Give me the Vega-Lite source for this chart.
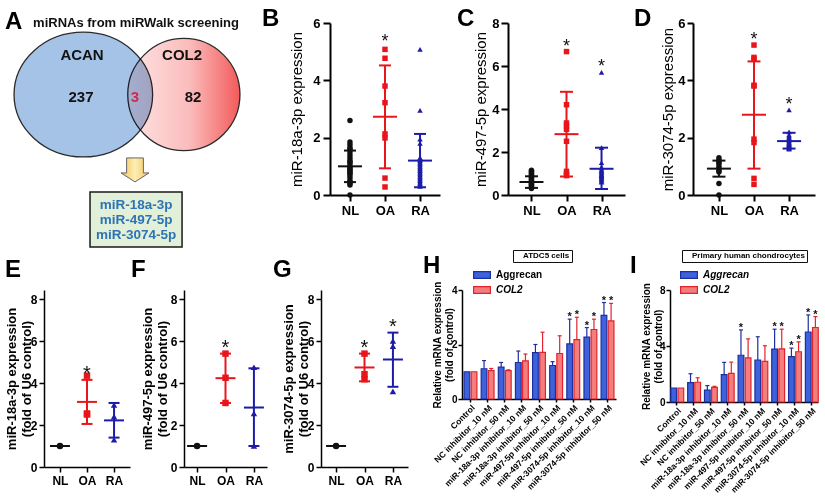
{
"$schema": "https://vega.github.io/schema/vega-lite/v6.json",
"background": "white",
"padding": {"left": 5, "top": 7, "right": 0, "bottom": 0},
"config": {
  "font": "Liberation Sans",
  "view": {"stroke": null},
  "axis": {"grid": false, "domainColor": "#000", "tickColor": "#000", "labelColor": "#000", "titleColor": "#000"},
  "title": {"fontSize": 24, "fontWeight": "bold", "anchor": "start", "frame": "group", "offset": 2, "color": "#000"},
  "legend": {"labelColor": "#000"}
},
"datasets": {
"pts": [
{"panel":"B","group":"NL","value":2.6},{"panel":"B","group":"NL","value":1.85},{"panel":"B","group":"NL","value":1.75},{"panel":"B","group":"NL","value":1.65},{"panel":"B","group":"NL","value":1.6},{"panel":"B","group":"NL","value":1.5},{"panel":"B","group":"NL","value":1.4},{"panel":"B","group":"NL","value":1.3},{"panel":"B","group":"NL","value":1.2},{"panel":"B","group":"NL","value":1.15},{"panel":"B","group":"NL","value":1.1},{"panel":"B","group":"NL","value":1.0},{"panel":"B","group":"NL","value":0.95},{"panel":"B","group":"NL","value":0.9},{"panel":"B","group":"NL","value":0.85},{"panel":"B","group":"NL","value":0.8},{"panel":"B","group":"NL","value":0.75},{"panel":"B","group":"NL","value":0.7},{"panel":"B","group":"NL","value":0.6},{"panel":"B","group":"NL","value":0.5},{"panel":"B","group":"NL","value":0.45},{"panel":"B","group":"NL","value":0.4},{"panel":"B","group":"NL","value":0.35},{"panel":"B","group":"NL","value":0.0},
{"panel":"B","group":"OA","value":5.08},{"panel":"B","group":"OA","value":4.77},{"panel":"B","group":"OA","value":3.8},{"panel":"B","group":"OA","value":3.22},{"panel":"B","group":"OA","value":2.13},{"panel":"B","group":"OA","value":1.99},{"panel":"B","group":"OA","value":0.59},{"panel":"B","group":"OA","value":0.28},
{"panel":"B","group":"RA","value":5.08},{"panel":"B","group":"RA","value":2.95},{"panel":"B","group":"RA","value":1.95},{"panel":"B","group":"RA","value":1.8},{"panel":"B","group":"RA","value":1.3},{"panel":"B","group":"RA","value":1.25},{"panel":"B","group":"RA","value":1.2},{"panel":"B","group":"RA","value":1.15},{"panel":"B","group":"RA","value":1.1},{"panel":"B","group":"RA","value":1.05},{"panel":"B","group":"RA","value":1.0},{"panel":"B","group":"RA","value":0.95},{"panel":"B","group":"RA","value":0.9},{"panel":"B","group":"RA","value":0.85},{"panel":"B","group":"RA","value":0.8},{"panel":"B","group":"RA","value":0.75},{"panel":"B","group":"RA","value":0.7},{"panel":"B","group":"RA","value":0.65},{"panel":"B","group":"RA","value":0.6},{"panel":"B","group":"RA","value":0.55},{"panel":"B","group":"RA","value":0.5},{"panel":"B","group":"RA","value":0.45},{"panel":"B","group":"RA","value":0.4},{"panel":"B","group":"RA","value":0.35},{"panel":"B","group":"RA","value":0.3},
{"panel":"C","group":"NL","value":1.15},{"panel":"C","group":"NL","value":1.1},{"panel":"C","group":"NL","value":1.05},{"panel":"C","group":"NL","value":1.0},{"panel":"C","group":"NL","value":0.95},{"panel":"C","group":"NL","value":0.9},{"panel":"C","group":"NL","value":0.85},{"panel":"C","group":"NL","value":0.8},{"panel":"C","group":"NL","value":0.75},{"panel":"C","group":"NL","value":0.7},{"panel":"C","group":"NL","value":0.65},{"panel":"C","group":"NL","value":0.6},{"panel":"C","group":"NL","value":0.55},{"panel":"C","group":"NL","value":0.5},{"panel":"C","group":"NL","value":0.45},{"panel":"C","group":"NL","value":0.4},{"panel":"C","group":"NL","value":0.35},{"panel":"C","group":"NL","value":0.3},
{"panel":"C","group":"OA","value":6.67},{"panel":"C","group":"OA","value":4.2},{"panel":"C","group":"OA","value":3.35},{"panel":"C","group":"OA","value":3.2},{"panel":"C","group":"OA","value":3.05},{"panel":"C","group":"OA","value":2.5},{"panel":"C","group":"OA","value":1.1},{"panel":"C","group":"OA","value":0.97},{"panel":"C","group":"OA","value":0.9},
{"panel":"C","group":"RA","value":5.7},{"panel":"C","group":"RA","value":2.2},{"panel":"C","group":"RA","value":1.5},{"panel":"C","group":"RA","value":1.3},{"panel":"C","group":"RA","value":1.2},{"panel":"C","group":"RA","value":1.15},{"panel":"C","group":"RA","value":1.1},{"panel":"C","group":"RA","value":1.05},{"panel":"C","group":"RA","value":1.0},{"panel":"C","group":"RA","value":0.95},{"panel":"C","group":"RA","value":0.9},{"panel":"C","group":"RA","value":0.85},{"panel":"C","group":"RA","value":0.8},{"panel":"C","group":"RA","value":0.75},{"panel":"C","group":"RA","value":0.7},{"panel":"C","group":"RA","value":0.65},{"panel":"C","group":"RA","value":0.6},
{"panel":"D","group":"NL","value":1.3},{"panel":"D","group":"NL","value":1.22},{"panel":"D","group":"NL","value":1.15},{"panel":"D","group":"NL","value":1.1},{"panel":"D","group":"NL","value":1.0},{"panel":"D","group":"NL","value":0.92},{"panel":"D","group":"NL","value":0.85},{"panel":"D","group":"NL","value":0.8},{"panel":"D","group":"NL","value":0.4},{"panel":"D","group":"NL","value":0.0},
{"panel":"D","group":"OA","value":5.23},{"panel":"D","group":"OA","value":4.8},{"panel":"D","group":"OA","value":4.75},{"panel":"D","group":"OA","value":3.83},{"panel":"D","group":"OA","value":3.8},{"panel":"D","group":"OA","value":1.95},{"panel":"D","group":"OA","value":1.83},{"panel":"D","group":"OA","value":0.58},{"panel":"D","group":"OA","value":0.37},
{"panel":"D","group":"RA","value":2.97},{"panel":"D","group":"RA","value":2.2},{"panel":"D","group":"RA","value":2.1},{"panel":"D","group":"RA","value":2.05},{"panel":"D","group":"RA","value":2.0},{"panel":"D","group":"RA","value":1.95},{"panel":"D","group":"RA","value":1.9},{"panel":"D","group":"RA","value":1.85},{"panel":"D","group":"RA","value":1.8},{"panel":"D","group":"RA","value":1.75},{"panel":"D","group":"RA","value":1.7},{"panel":"D","group":"RA","value":1.65},{"panel":"D","group":"RA","value":1.6},{"panel":"D","group":"RA","value":1.62},{"panel":"D","group":"RA","value":1.67},{"panel":"D","group":"RA","value":1.72},{"panel":"D","group":"RA","value":1.77},{"panel":"D","group":"RA","value":1.82},
{"panel":"E","group":"NL","value":1.0},{"panel":"E","group":"OA","value":4.35},{"panel":"E","group":"OA","value":2.55},{"panel":"E","group":"OA","value":2.5},{"panel":"E","group":"RA","value":2.95},{"panel":"E","group":"RA","value":2.4},{"panel":"E","group":"RA","value":1.3},
{"panel":"F","group":"NL","value":1.0},{"panel":"F","group":"OA","value":5.4},{"panel":"F","group":"OA","value":4.25},{"panel":"F","group":"OA","value":3.05},{"panel":"F","group":"RA","value":4.75},{"panel":"F","group":"RA","value":2.55},{"panel":"F","group":"RA","value":1.0},
{"panel":"G","group":"NL","value":1.0},{"panel":"G","group":"OA","value":5.4},{"panel":"G","group":"OA","value":4.42},{"panel":"G","group":"OA","value":4.18},{"panel":"G","group":"RA","value":6.0},{"panel":"G","group":"RA","value":5.75},{"panel":"G","group":"RA","value":3.6}
],
"sum": [
{"panel":"B","group":"NL","mean":1.0,"lo":0.45,"hi":1.55,"sig":""},{"panel":"B","group":"OA","mean":2.73,"lo":0.93,"hi":4.52,"sig":"*"},{"panel":"B","group":"RA","mean":1.2,"lo":0.27,"hi":2.13,"sig":""},
{"panel":"C","group":"NL","mean":0.6,"lo":0.33,"hi":0.87,"sig":""},{"panel":"C","group":"OA","mean":2.83,"lo":0.86,"hi":4.8,"sig":"*"},{"panel":"C","group":"RA","mean":1.22,"lo":0.28,"hi":2.2,"sig":"*"},
{"panel":"D","group":"NL","mean":0.92,"lo":0.64,"hi":1.2,"sig":""},{"panel":"D","group":"OA","mean":2.8,"lo":0.92,"hi":4.66,"sig":"*"},{"panel":"D","group":"RA","mean":1.88,"lo":1.62,"hi":2.17,"sig":"*"},
{"panel":"E","group":"NL","mean":1.0,"lo":1.0,"hi":1.0,"sig":""},{"panel":"E","group":"OA","mean":3.1,"lo":2.05,"hi":4.15,"sig":"*"},{"panel":"E","group":"RA","mean":2.22,"lo":1.4,"hi":3.05,"sig":""},
{"panel":"F","group":"NL","mean":1.0,"lo":1.0,"hi":1.0,"sig":""},{"panel":"F","group":"OA","mean":4.23,"lo":3.05,"hi":5.4,"sig":"*"},{"panel":"F","group":"RA","mean":2.83,"lo":1.0,"hi":4.7,"sig":""},
{"panel":"G","group":"NL","mean":1.0,"lo":1.0,"hi":1.0,"sig":""},{"panel":"G","group":"OA","mean":4.74,"lo":4.08,"hi":5.4,"sig":"*"},{"panel":"G","group":"RA","mean":5.12,"lo":3.82,"hi":6.4,"sig":"*"}
],
"bars": [
{"cells":"ATDC5 cells","treat":"Control","gene":"Aggrecan","value":1.0,"err":1.0,"sig":""},
{"cells":"ATDC5 cells","treat":"Control","gene":"COL2","value":1.0,"err":1.0,"sig":""},
{"cells":"ATDC5 cells","treat":"NC inhibitor_10 nM","gene":"Aggrecan","value":1.11,"err":1.41,"sig":""},
{"cells":"ATDC5 cells","treat":"NC inhibitor_10 nM","gene":"COL2","value":1.04,"err":1.12,"sig":""},
{"cells":"ATDC5 cells","treat":"NC inhibitor_50 nM","gene":"Aggrecan","value":1.17,"err":1.34,"sig":""},
{"cells":"ATDC5 cells","treat":"NC inhibitor_50 nM","gene":"COL2","value":1.04,"err":1.07,"sig":""},
{"cells":"ATDC5 cells","treat":"miR-18a-3p inhibitor_10 nM","gene":"Aggrecan","value":1.34,"err":1.76,"sig":""},
{"cells":"ATDC5 cells","treat":"miR-18a-3p inhibitor_10 nM","gene":"COL2","value":1.4,"err":1.65,"sig":""},
{"cells":"ATDC5 cells","treat":"miR-18a-3p inhibitor_50 nM","gene":"Aggrecan","value":1.7,"err":2.0,"sig":""},
{"cells":"ATDC5 cells","treat":"miR-18a-3p inhibitor_50 nM","gene":"COL2","value":1.71,"err":2.45,"sig":""},
{"cells":"ATDC5 cells","treat":"miR-497-5p inhibitor_10 nM","gene":"Aggrecan","value":1.23,"err":1.37,"sig":""},
{"cells":"ATDC5 cells","treat":"miR-497-5p inhibitor_10 nM","gene":"COL2","value":1.67,"err":2.32,"sig":""},
{"cells":"ATDC5 cells","treat":"miR-497-5p inhibitor_50 nM","gene":"Aggrecan","value":2.02,"err":2.93,"sig":"*"},
{"cells":"ATDC5 cells","treat":"miR-497-5p inhibitor_50 nM","gene":"COL2","value":2.18,"err":3.0,"sig":"*"},
{"cells":"ATDC5 cells","treat":"miR-3074-5p inhibitor_10 nM","gene":"Aggrecan","value":2.27,"err":2.62,"sig":"*"},
{"cells":"ATDC5 cells","treat":"miR-3074-5p inhibitor_10 nM","gene":"COL2","value":2.55,"err":2.93,"sig":"*"},
{"cells":"ATDC5 cells","treat":"miR-3074-5p inhibitor_50 nM","gene":"Aggrecan","value":3.07,"err":3.54,"sig":"*"},
{"cells":"ATDC5 cells","treat":"miR-3074-5p inhibitor_50 nM","gene":"COL2","value":2.87,"err":3.51,"sig":"*"},
{"cells":"Primary human chondrocytes","treat":"Control","gene":"Aggrecan","value":1.0,"err":1.0,"sig":""},
{"cells":"Primary human chondrocytes","treat":"Control","gene":"COL2","value":1.0,"err":1.0,"sig":""},
{"cells":"Primary human chondrocytes","treat":"NC inhibitor_10 nM","gene":"Aggrecan","value":1.39,"err":2.02,"sig":""},
{"cells":"Primary human chondrocytes","treat":"NC inhibitor_10 nM","gene":"COL2","value":1.41,"err":1.73,"sig":""},
{"cells":"Primary human chondrocytes","treat":"NC inhibitor_50 nM","gene":"Aggrecan","value":0.85,"err":1.17,"sig":""},
{"cells":"Primary human chondrocytes","treat":"NC inhibitor_50 nM","gene":"COL2","value":1.05,"err":1.12,"sig":""},
{"cells":"Primary human chondrocytes","treat":"miR-18a-3p inhibitor_10 nM","gene":"Aggrecan","value":1.95,"err":2.83,"sig":""},
{"cells":"Primary human chondrocytes","treat":"miR-18a-3p inhibitor_10 nM","gene":"COL2","value":2.05,"err":2.85,"sig":""},
{"cells":"Primary human chondrocytes","treat":"miR-18a-3p inhibitor_50 nM","gene":"Aggrecan","value":3.34,"err":5.15,"sig":"*"},
{"cells":"Primary human chondrocytes","treat":"miR-18a-3p inhibitor_50 nM","gene":"COL2","value":3.15,"err":4.51,"sig":""},
{"cells":"Primary human chondrocytes","treat":"miR-497-5p inhibitor_10 nM","gene":"Aggrecan","value":3.0,"err":4.66,"sig":""},
{"cells":"Primary human chondrocytes","treat":"miR-497-5p inhibitor_10 nM","gene":"COL2","value":2.9,"err":4.02,"sig":""},
{"cells":"Primary human chondrocytes","treat":"miR-497-5p inhibitor_50 nM","gene":"Aggrecan","value":3.78,"err":5.2,"sig":"*"},
{"cells":"Primary human chondrocytes","treat":"miR-497-5p inhibitor_50 nM","gene":"COL2","value":3.8,"err":5.2,"sig":"*"},
{"cells":"Primary human chondrocytes","treat":"miR-3074-5p inhibitor_10 nM","gene":"Aggrecan","value":3.24,"err":3.85,"sig":"*"},
{"cells":"Primary human chondrocytes","treat":"miR-3074-5p inhibitor_10 nM","gene":"COL2","value":3.59,"err":4.29,"sig":"*"},
{"cells":"Primary human chondrocytes","treat":"miR-3074-5p inhibitor_50 nM","gene":"Aggrecan","value":5.0,"err":6.22,"sig":"*"},
{"cells":"Primary human chondrocytes","treat":"miR-3074-5p inhibitor_50 nM","gene":"COL2","value":5.32,"err":6.1,"sig":"*"}
]
},
"spacing": 1,
"resolve": {"scale": {"color": "independent", "fill": "independent", "stroke": "independent", "shape": "independent"}, "legend": {"color": "independent", "fill": "independent", "stroke": "independent", "shape": "independent"}},
"vconcat": [
{"hconcat": [
 {"width": 218, "height": 225,
  "title": {"text": "A", "dx": -39, "dy": 19},
  "data": {"values": [{"set": "ACAN", "count": 237}, {"set": "ACAN and COL2", "count": 3}, {"set": "COL2", "count": 82}]},
  "layer": [
   {"transform": [{"filter": "datum.set === 'COL2'"}],
    "mark": {"type": "point", "shape": "circle", "size": 12588, "filled": true, "fill": {"gradient": "linear", "x1": 0, "y1": 0, "x2": 1, "y2": 0, "stops": [{"offset": 0, "color": "#fde4e4"}, {"offset": 0.55, "color": "#fbbcbc"}, {"offset": 1, "color": "#f35a5a"}]}, "stroke": "#2b2b2b", "strokeWidth": 1.3, "opacity": 1},
    "encoding": {"x": {"datum": 69.6, "type": "quantitative", "scale": {"domain": [15.2, 100], "nice": false, "zero": false}, "axis": null}, "y": {"datum": 68.2, "type": "quantitative", "scale": {"domain": [0, 100], "nice": false}, "axis": null}}},
   {"transform": [{"filter": "datum.set === 'ACAN'"}],
    "mark": {"type": "point", "shape": "M-1,0C-1,-0.497,-0.552,-0.9,0,-0.9C0.552,-0.9,1,-0.497,1,0C1,0.497,0.552,0.9,0,0.9C-0.552,0.9,-1,0.497,-1,0Z", "size": 19210, "filled": true, "fill": "#a5c3e7", "stroke": "#2b2b2b", "strokeWidth": 1.3, "opacity": 1, "blend": "multiply"},
    "encoding": {"x": {"datum": 30.5, "type": "quantitative", "axis": null}, "y": {"datum": 68.2, "type": "quantitative", "axis": null}}},
   {"transform": [{"filter": "datum.set === 'ACAN'"}],
    "mark": {"type": "text", "fontSize": 15, "fontWeight": "bold", "color": "#111"},
    "encoding": {"text": {"field": "set"}, "x": {"datum": 30, "type": "quantitative", "axis": null}, "y": {"datum": 85.8, "type": "quantitative", "axis": null}}},
   {"transform": [{"filter": "datum.set === 'COL2'"}],
    "mark": {"type": "text", "fontSize": 15, "fontWeight": "bold", "color": "#111"},
    "encoding": {"text": {"field": "set"}, "x": {"datum": 68.9, "type": "quantitative", "axis": null}, "y": {"datum": 85.8, "type": "quantitative", "axis": null}}},
   {"transform": [{"filter": "datum.set === 'ACAN'"}],
    "mark": {"type": "text", "fontSize": 15, "fontWeight": "bold", "color": "#111"},
    "encoding": {"text": {"field": "count"}, "x": {"datum": 29.6, "type": "quantitative", "axis": null}, "y": {"datum": 67.1, "type": "quantitative", "axis": null}}},
   {"transform": [{"filter": "datum.set === 'ACAN and COL2'"}],
    "mark": {"type": "text", "fontSize": 15, "fontWeight": "bold", "color": "#cf2a55"},
    "encoding": {"text": {"field": "count"}, "x": {"datum": 50.6, "type": "quantitative", "axis": null}, "y": {"datum": 67.1, "type": "quantitative", "axis": null}}},
   {"transform": [{"filter": "datum.set === 'COL2'"}],
    "mark": {"type": "text", "fontSize": 15, "fontWeight": "bold", "color": "#111"},
    "encoding": {"text": {"field": "count"}, "x": {"datum": 73.2, "type": "quantitative", "axis": null}, "y": {"datum": 67.1, "type": "quantitative", "axis": null}}},
   {"transform": [{"filter": "datum.set === 'ACAN'"}],
    "mark": {"type": "text", "text": "miRNAs from miRWalk screening", "fontSize": 13, "fontWeight": "bold", "color": "#111"},
    "encoding": {"x": {"datum": 51, "type": "quantitative", "axis": null}, "y": {"datum": 99.8, "type": "quantitative", "axis": null}}},
   {"transform": [{"filter": "datum.set === 'ACAN and COL2'"}],
    "mark": {"type": "point", "shape": "M-0.7,-1L0.7,-1L0.7,0.25L1.17,0.25L0,1L-1.17,0.25L-0.7,0.25Z", "size": 576, "filled": true, "fill": {"gradient": "linear", "x1": 0, "y1": 0, "x2": 1, "y2": 0, "stops": [{"offset": 0, "color": "#f3c24f"}, {"offset": 0.5, "color": "#fdeeb8"}, {"offset": 1, "color": "#f3c24f"}]}, "stroke": "#666", "strokeWidth": 1, "opacity": 1},
    "encoding": {"x": {"datum": 50.6, "type": "quantitative", "axis": null}, "y": {"datum": 34.7, "type": "quantitative", "axis": null}}},
   {"transform": [{"filter": "datum.set === 'ACAN and COL2'"}],
    "mark": {"type": "rect", "fill": "#e2efd9", "stroke": "#1a1a1a", "strokeWidth": 1.5},
    "encoding": {"x": {"datum": 33.1, "type": "quantitative", "axis": null}, "x2": {"datum": 68.9}, "y": {"datum": 24.9, "type": "quantitative", "axis": null}, "y2": {"datum": 0.4}}},
   {"data": {"values": [{"mirna": "miR-18a-3p"}]},
    "mark": {"type": "text", "fontSize": 13.5, "fontWeight": "bold", "color": "#2e74b5"},
    "encoding": {"text": {"field": "mirna"}, "x": {"datum": 51, "type": "quantitative", "axis": null}, "y": {"datum": 19.1, "type": "quantitative", "axis": null}}},
   {"data": {"values": [{"mirna": "miR-497-5p"}]},
    "mark": {"type": "text", "fontSize": 13.5, "fontWeight": "bold", "color": "#2e74b5"},
    "encoding": {"text": {"field": "mirna"}, "x": {"datum": 51, "type": "quantitative", "axis": null}, "y": {"datum": 12.4, "type": "quantitative", "axis": null}}},
   {"data": {"values": [{"mirna": "miR-3074-5p"}]},
    "mark": {"type": "text", "fontSize": 13.5, "fontWeight": "bold", "color": "#2e74b5"},
    "encoding": {"text": {"field": "mirna"}, "x": {"datum": 51, "type": "quantitative", "axis": null}, "y": {"datum": 5.8, "type": "quantitative", "axis": null}}}
  ]
 },
 {"width": 110, "height": 172,
  "title": {"text": "B", "dx": -68, "dy": 16},
  "encoding": {
   "x": {"field": "group", "type": "nominal", "scale": {"type": "point", "domain": ["NL","OA","RA"], "padding": 0.57}, "axis": {"title": null, "labelAngle": 0, "labelFontSize": 13, "labelFontWeight": "bold", "tickSize": 6, "tickWidth": 2, "domainWidth": 2, "labelPadding": 3}},
   "color": {"field": "group", "type": "nominal", "scale": {"domain": ["NL","OA","RA"], "range": ["#111111","#e8161b","#1c1ca8"]}, "legend": null}
  },
  "layer": [
   {"data": {"name": "pts"}, "transform": [{"filter": "datum.panel === 'B'"}],
    "mark": {"type": "point", "filled": true, "opacity": 1, "size": 30},
    "encoding": {"y": {"field": "value", "type": "quantitative", "scale": {"domain": [0, 6], "nice": false}, "axis": {"title": "miR-18a-3p expression", "titleFontSize": 15, "titleFontWeight": "normal", "titlePadding": 8, "labelFontSize": 13, "labelFontWeight": "bold", "values": [0,2,4,6], "tickSize": 7, "tickWidth": 2, "domainWidth": 2, "labelPadding": 3}},
     "shape": {"field": "group", "type": "nominal", "scale": {"domain": ["NL","OA","RA"], "range": ["circle","square","triangle-up"]}, "legend": null}}},
   {"data": {"name": "sum"}, "transform": [{"filter": "datum.panel === 'B'"}], "mark": {"type": "tick", "size": 24, "thickness": 2, "opacity": 1}, "encoding": {"y": {"field": "mean", "type": "quantitative"}}},
   {"data": {"name": "sum"}, "transform": [{"filter": "datum.panel === 'B' && datum.hi > datum.lo"}], "mark": {"type": "rule", "strokeWidth": 2}, "encoding": {"y": {"field": "lo", "type": "quantitative"}, "y2": {"field": "hi"}}},
   {"data": {"name": "sum"}, "transform": [{"filter": "datum.panel === 'B' && datum.hi > datum.lo"}], "mark": {"type": "tick", "size": 12, "thickness": 2, "opacity": 1}, "encoding": {"y": {"field": "lo", "type": "quantitative"}}},
   {"data": {"name": "sum"}, "transform": [{"filter": "datum.panel === 'B' && datum.hi > datum.lo"}], "mark": {"type": "tick", "size": 12, "thickness": 2, "opacity": 1}, "encoding": {"y": {"field": "hi", "type": "quantitative"}}},
   {"data": {"name": "pts"}, "transform": [{"filter": "datum.panel === 'B' && datum.group === 'OA'"}], "mark": {"type": "text", "text": "*", "fontSize": 18, "baseline": "alphabetic", "dy": -2}, "encoding": {"y": {"aggregate": "max", "field": "value", "type": "quantitative"}, "color": {"value": "#111111"}}}
  ]
 },
 {"width": 117, "height": 172,
  "title": {"text": "C", "dx": -51, "dy": 16},
  "encoding": {
   "x": {"field": "group", "type": "nominal", "scale": {"type": "point", "domain": ["NL","OA","RA"], "padding": 0.67}, "axis": {"title": null, "labelAngle": 0, "labelFontSize": 13, "labelFontWeight": "bold", "tickSize": 6, "tickWidth": 2, "domainWidth": 2, "labelPadding": 3}},
   "color": {"field": "group", "type": "nominal", "scale": {"domain": ["NL","OA","RA"], "range": ["#111111","#e8161b","#1c1ca8"]}, "legend": null}
  },
  "layer": [
   {"data": {"name": "pts"}, "transform": [{"filter": "datum.panel === 'C'"}],
    "mark": {"type": "point", "filled": true, "opacity": 1, "size": 30},
    "encoding": {"y": {"field": "value", "type": "quantitative", "scale": {"domain": [0, 8], "nice": false}, "axis": {"title": "miR-497-5p expression", "titleFontSize": 15, "titleFontWeight": "normal", "titlePadding": 3, "labelFontSize": 13, "labelFontWeight": "bold", "values": [0,2,4,6,8], "tickSize": 7, "tickWidth": 2, "domainWidth": 2, "labelPadding": 2}},
     "shape": {"field": "group", "type": "nominal", "scale": {"domain": ["NL","OA","RA"], "range": ["circle","square","triangle-up"]}, "legend": null}}},
   {"data": {"name": "sum"}, "transform": [{"filter": "datum.panel === 'C'"}], "mark": {"type": "tick", "size": 24, "thickness": 2, "opacity": 1}, "encoding": {"y": {"field": "mean", "type": "quantitative"}}},
   {"data": {"name": "sum"}, "transform": [{"filter": "datum.panel === 'C' && datum.hi > datum.lo"}], "mark": {"type": "rule", "strokeWidth": 2}, "encoding": {"y": {"field": "lo", "type": "quantitative"}, "y2": {"field": "hi"}}},
   {"data": {"name": "sum"}, "transform": [{"filter": "datum.panel === 'C' && datum.hi > datum.lo"}], "mark": {"type": "tick", "size": 13, "thickness": 2, "opacity": 1}, "encoding": {"y": {"field": "lo", "type": "quantitative"}}},
   {"data": {"name": "sum"}, "transform": [{"filter": "datum.panel === 'C' && datum.hi > datum.lo"}], "mark": {"type": "tick", "size": 13, "thickness": 2, "opacity": 1}, "encoding": {"y": {"field": "hi", "type": "quantitative"}}},
   {"data": {"name": "pts"}, "transform": [{"filter": "datum.panel === 'C' && datum.group !== 'NL'"}], "mark": {"type": "text", "text": "*", "fontSize": 18, "baseline": "alphabetic", "dy": 0}, "encoding": {"y": {"aggregate": "max", "field": "value", "type": "quantitative"}, "color": {"value": "#111111"}}}
  ]
 },
 {"width": 122, "height": 172,
  "title": {"text": "D", "dx": -59, "dy": 16},
  "encoding": {
   "x": {"field": "group", "type": "nominal", "scale": {"type": "point", "domain": ["NL","OA","RA"], "padding": 0.74}, "axis": {"title": null, "labelAngle": 0, "labelFontSize": 13, "labelFontWeight": "bold", "tickSize": 6, "tickWidth": 2, "domainWidth": 2, "labelPadding": 3}},
   "color": {"field": "group", "type": "nominal", "scale": {"domain": ["NL","OA","RA"], "range": ["#111111","#e8161b","#1c1ca8"]}, "legend": null}
  },
  "layer": [
   {"data": {"name": "pts"}, "transform": [{"filter": "datum.panel === 'D'"}],
    "mark": {"type": "point", "filled": true, "opacity": 1, "size": 30},
    "encoding": {"y": {"field": "value", "type": "quantitative", "scale": {"domain": [0, 6], "nice": false}, "axis": {"title": "miR-3074-5p expression", "titleFontSize": 15, "titleFontWeight": "normal", "titlePadding": 2, "labelFontSize": 13, "labelFontWeight": "bold", "values": [0,2,4,6], "tickSize": 6, "tickWidth": 2, "domainWidth": 2, "labelPadding": 2}},
     "shape": {"field": "group", "type": "nominal", "scale": {"domain": ["NL","OA","RA"], "range": ["circle","square","triangle-up"]}, "legend": null}}},
   {"data": {"name": "sum"}, "transform": [{"filter": "datum.panel === 'D'"}], "mark": {"type": "tick", "size": 24, "thickness": 2, "opacity": 1}, "encoding": {"y": {"field": "mean", "type": "quantitative"}}},
   {"data": {"name": "sum"}, "transform": [{"filter": "datum.panel === 'D' && datum.hi > datum.lo"}], "mark": {"type": "rule", "strokeWidth": 2}, "encoding": {"y": {"field": "lo", "type": "quantitative"}, "y2": {"field": "hi"}}},
   {"data": {"name": "sum"}, "transform": [{"filter": "datum.panel === 'D' && datum.hi > datum.lo"}], "mark": {"type": "tick", "size": 13, "thickness": 2, "opacity": 1}, "encoding": {"y": {"field": "lo", "type": "quantitative"}}},
   {"data": {"name": "sum"}, "transform": [{"filter": "datum.panel === 'D' && datum.hi > datum.lo"}], "mark": {"type": "tick", "size": 13, "thickness": 2, "opacity": 1}, "encoding": {"y": {"field": "hi", "type": "quantitative"}}},
   {"data": {"name": "pts"}, "transform": [{"filter": "datum.panel === 'D' && datum.group !== 'NL'"}], "mark": {"type": "text", "text": "*", "fontSize": 18, "baseline": "alphabetic", "dy": 0}, "encoding": {"y": {"aggregate": "max", "field": "value", "type": "quantitative"}, "color": {"value": "#111111"}}}
  ]
 }
], "bounds": "flush", "spacing": 68,
 "resolve": {"scale": {"color": "independent", "fill": "independent", "stroke": "independent", "shape": "independent"}, "legend": {"color": "independent", "fill": "independent", "stroke": "independent", "shape": "independent"}}},
{"hconcat": [
 {"width": 86, "height": 177,
  "title": {"text": "E", "dx": -39, "dy": -6},
  "encoding": {
   "x": {"field": "group", "type": "nominal", "scale": {"type": "point", "domain": ["NL","OA","RA"], "padding": 0.59}, "axis": {"title": null, "labelAngle": 0, "labelFontSize": 12, "labelFontWeight": "bold", "tickSize": 5, "tickWidth": 1.5, "domainWidth": 1.5, "labelPadding": 3}},
   "color": {"field": "group", "type": "nominal", "scale": {"domain": ["NL","OA","RA"], "range": ["#111111","#e8161b","#1c1ca8"]}, "legend": null}
  },
  "layer": [
   {"data": {"name": "pts"}, "transform": [{"filter": "datum.panel === 'E'"}],
    "mark": {"type": "point", "filled": true, "opacity": 1, "size": 42},
    "encoding": {"y": {"field": "value", "type": "quantitative", "scale": {"domain": [0, 8.43], "nice": false}, "axis": {"title": ["miR-18a-3p expression", "(fold of U6 control)"], "titleFontSize": 13, "titleFontWeight": "bold", "titlePadding": -3, "labelFontSize": 12, "labelFontWeight": "bold", "values": [0,2,4,6,8], "tickSize": 5, "tickWidth": 1.5, "domainWidth": 1.5, "labelPadding": 2}},
     "shape": {"field": "group", "type": "nominal", "scale": {"domain": ["NL","OA","RA"], "range": ["circle","square","triangle-up"]}, "legend": null}}},
   {"data": {"name": "sum"}, "transform": [{"filter": "datum.panel === 'E'"}], "mark": {"type": "tick", "size": 20, "thickness": 2, "opacity": 1}, "encoding": {"y": {"field": "mean", "type": "quantitative"}}},
   {"data": {"name": "sum"}, "transform": [{"filter": "datum.panel === 'E' && datum.hi > datum.lo"}], "mark": {"type": "rule", "strokeWidth": 2}, "encoding": {"y": {"field": "lo", "type": "quantitative"}, "y2": {"field": "hi"}}},
   {"data": {"name": "sum"}, "transform": [{"filter": "datum.panel === 'E' && datum.hi > datum.lo"}], "mark": {"type": "tick", "size": 11, "thickness": 2, "opacity": 1}, "encoding": {"y": {"field": "lo", "type": "quantitative"}}},
   {"data": {"name": "sum"}, "transform": [{"filter": "datum.panel === 'E' && datum.hi > datum.lo"}], "mark": {"type": "tick", "size": 11, "thickness": 2, "opacity": 1}, "encoding": {"y": {"field": "hi", "type": "quantitative"}}},
   {"data": {"name": "sum"}, "transform": [{"filter": "datum.panel === 'E' && datum.sig === '*'"}], "mark": {"type": "text", "fontSize": 20, "baseline": "alphabetic", "dy": 0}, "encoding": {"y": {"field": "hi", "type": "quantitative"}, "text": {"field": "sig"}, "color": {"value": "#111111"}}}
  ]
 },
 {"width": 83, "height": 177,
  "title": {"text": "F", "dx": -53, "dy": -6},
  "encoding": {
   "x": {"field": "group", "type": "nominal", "scale": {"type": "point", "domain": ["NL","OA","RA"], "padding": 0.46}, "axis": {"title": null, "labelAngle": 0, "labelFontSize": 12, "labelFontWeight": "bold", "tickSize": 5, "tickWidth": 1.5, "domainWidth": 1.5, "labelPadding": 3}},
   "color": {"field": "group", "type": "nominal", "scale": {"domain": ["NL","OA","RA"], "range": ["#111111","#e8161b","#1c1ca8"]}, "legend": null}
  },
  "layer": [
   {"data": {"name": "pts"}, "transform": [{"filter": "datum.panel === 'F'"}],
    "mark": {"type": "point", "filled": true, "opacity": 1, "size": 42},
    "encoding": {"y": {"field": "value", "type": "quantitative", "scale": {"domain": [0, 8.43], "nice": false}, "axis": {"title": ["miR-497-5p expression", "(fold of U6 control)"], "titleFontSize": 13, "titleFontWeight": "bold", "titlePadding": 1, "labelFontSize": 12, "labelFontWeight": "bold", "values": [0,2,4,6,8], "tickSize": 5, "tickWidth": 1.5, "domainWidth": 1.5, "labelPadding": 2}},
     "shape": {"field": "group", "type": "nominal", "scale": {"domain": ["NL","OA","RA"], "range": ["circle","square","triangle-up"]}, "legend": null}}},
   {"data": {"name": "sum"}, "transform": [{"filter": "datum.panel === 'F'"}], "mark": {"type": "tick", "size": 20, "thickness": 2, "opacity": 1}, "encoding": {"y": {"field": "mean", "type": "quantitative"}}},
   {"data": {"name": "sum"}, "transform": [{"filter": "datum.panel === 'F' && datum.hi > datum.lo"}], "mark": {"type": "rule", "strokeWidth": 2}, "encoding": {"y": {"field": "lo", "type": "quantitative"}, "y2": {"field": "hi"}}},
   {"data": {"name": "sum"}, "transform": [{"filter": "datum.panel === 'F' && datum.hi > datum.lo"}], "mark": {"type": "tick", "size": 11, "thickness": 2, "opacity": 1}, "encoding": {"y": {"field": "lo", "type": "quantitative"}}},
   {"data": {"name": "sum"}, "transform": [{"filter": "datum.panel === 'F' && datum.hi > datum.lo"}], "mark": {"type": "tick", "size": 11, "thickness": 2, "opacity": 1}, "encoding": {"y": {"field": "hi", "type": "quantitative"}}},
   {"data": {"name": "sum"}, "transform": [{"filter": "datum.panel === 'F' && datum.sig === '*'"}], "mark": {"type": "text", "fontSize": 20, "baseline": "alphabetic", "dy": 0}, "encoding": {"y": {"field": "hi", "type": "quantitative"}, "text": {"field": "sig"}, "color": {"value": "#111111"}}}
  ]
 },
 {"width": 87, "height": 177,
  "title": {"text": "G", "dx": -48, "dy": -6},
  "encoding": {
   "x": {"field": "group", "type": "nominal", "scale": {"type": "point", "domain": ["NL","OA","RA"], "padding": 0.53}, "axis": {"title": null, "labelAngle": 0, "labelFontSize": 12, "labelFontWeight": "bold", "tickSize": 5, "tickWidth": 1.5, "domainWidth": 1.5, "labelPadding": 3}},
   "color": {"field": "group", "type": "nominal", "scale": {"domain": ["NL","OA","RA"], "range": ["#111111","#e8161b","#1c1ca8"]}, "legend": null}
  },
  "layer": [
   {"data": {"name": "pts"}, "transform": [{"filter": "datum.panel === 'G'"}],
    "mark": {"type": "point", "filled": true, "opacity": 1, "size": 42},
    "encoding": {"y": {"field": "value", "type": "quantitative", "scale": {"domain": [0, 8.43], "nice": false}, "axis": {"title": ["miR-3074-5p expression", "(fold of U6 control)"], "titleFontSize": 13, "titleFontWeight": "bold", "titlePadding": -3, "labelFontSize": 12, "labelFontWeight": "bold", "values": [0,2,4,6,8], "tickSize": 5, "tickWidth": 1.5, "domainWidth": 1.5, "labelPadding": 2}},
     "shape": {"field": "group", "type": "nominal", "scale": {"domain": ["NL","OA","RA"], "range": ["circle","square","triangle-up"]}, "legend": null}}},
   {"data": {"name": "sum"}, "transform": [{"filter": "datum.panel === 'G'"}], "mark": {"type": "tick", "size": 20, "thickness": 2, "opacity": 1}, "encoding": {"y": {"field": "mean", "type": "quantitative"}}},
   {"data": {"name": "sum"}, "transform": [{"filter": "datum.panel === 'G' && datum.hi > datum.lo"}], "mark": {"type": "rule", "strokeWidth": 2}, "encoding": {"y": {"field": "lo", "type": "quantitative"}, "y2": {"field": "hi"}}},
   {"data": {"name": "sum"}, "transform": [{"filter": "datum.panel === 'G' && datum.hi > datum.lo"}], "mark": {"type": "tick", "size": 11, "thickness": 2, "opacity": 1}, "encoding": {"y": {"field": "lo", "type": "quantitative"}}},
   {"data": {"name": "sum"}, "transform": [{"filter": "datum.panel === 'G' && datum.hi > datum.lo"}], "mark": {"type": "tick", "size": 11, "thickness": 2, "opacity": 1}, "encoding": {"y": {"field": "hi", "type": "quantitative"}}},
   {"data": {"name": "sum"}, "transform": [{"filter": "datum.panel === 'G' && datum.sig === '*'"}], "mark": {"type": "text", "fontSize": 20, "baseline": "alphabetic", "dy": 0}, "encoding": {"y": {"field": "hi", "type": "quantitative"}, "text": {"field": "sig"}, "color": {"value": "#111111"}}}
  ]
 },
 {"width": 154, "height": 109,
  "title": {"text": "H", "dx": -39, "dy": 30},
  "data": {"name": "bars"},
  "transform": [{"filter": "datum.cells === 'ATDC5 cells'"}],
  "encoding": {
   "x": {"field": "treat", "type": "nominal", "scale": {"domain": ["Control","NC inhibitor_10 nM","NC inhibitor_50 nM","miR-18a-3p inhibitor_10 nM","miR-18a-3p inhibitor_50 nM","miR-497-5p inhibitor_10 nM","miR-497-5p inhibitor_50 nM","miR-3074-5p inhibitor_10 nM","miR-3074-5p inhibitor_50 nM"], "paddingInner": 0.25, "paddingOuter": 0.12}, "axis": {"title": null, "labelAngle": -45, "labelFontSize": 8.5, "labelFontWeight": "bold", "tickSize": 3, "tickWidth": 1.5, "domainWidth": 1.5, "labelPadding": 1}},
   "xOffset": {"field": "gene", "type": "nominal", "scale": {"domain": ["Aggrecan","COL2"], "paddingInner": 0.2}}
  },
  "layer": [
   {"mark": {"type": "bar", "strokeWidth": 1.2},
    "encoding": {
     "y": {"field": "value", "type": "quantitative", "scale": {"domain": [0, 4], "nice": false}, "axis": {"title": ["Relative mRNA expression", "(fold of control)"], "titleFontSize": 10, "titleFontWeight": "bold", "titlePadding": -3, "labelFontSize": 10, "labelFontWeight": "bold", "values": [0,1,2,3,4], "tickSize": 4, "tickWidth": 1.5, "domainWidth": 1.5, "labelPadding": 1}},
     "fill": {"field": "gene", "type": "nominal", "scale": {"domain": ["Aggrecan","COL2"], "range": ["#3d62dc","#f47d7d"]}, "legend": {"title": null, "orient": "none", "legendX": 13, "legendY": -22, "direction": "vertical", "symbolType": "M-1.4,-0.55L1.4,-0.55L1.4,0.55L-1.4,0.55Z", "symbolSize": 144, "symbolStrokeWidth": 1.2, "labelFontSize": 10, "labelFontWeight": "bold", "labelOffset": 7, "rowPadding": 2, "encode": {"labels": {"update": {"fontStyle": {"signal": "datum.label === 'COL2' ? 'italic' : 'normal'"}}}}}},
     "stroke": {"field": "gene", "type": "nominal", "scale": {"domain": ["Aggrecan","COL2"], "range": ["#1d2e9e","#e3232b"]}, "legend": {"title": null, "orient": "none", "legendX": 13, "legendY": -22, "direction": "vertical", "symbolType": "M-1.4,-0.55L1.4,-0.55L1.4,0.55L-1.4,0.55Z", "symbolSize": 144, "symbolStrokeWidth": 1.2, "labelFontSize": 10, "labelFontWeight": "bold", "labelOffset": 7, "rowPadding": 2, "encode": {"labels": {"update": {"fontStyle": {"signal": "datum.label === 'COL2' ? 'italic' : 'normal'"}}}}}}
    }},
   {"transform": [{"filter": "datum.err > datum.value"}], "mark": {"type": "rule", "strokeWidth": 1.2},
    "encoding": {"y": {"field": "value", "type": "quantitative"}, "y2": {"field": "err"}, "color": {"field": "gene", "type": "nominal", "scale": {"domain": ["Aggrecan","COL2"], "range": ["#1d2e9e","#e3232b"]}, "legend": null}}},
   {"transform": [{"filter": "datum.err > datum.value"}], "mark": {"type": "tick", "size": 4, "thickness": 1.2, "opacity": 1},
    "encoding": {"y": {"field": "err", "type": "quantitative"}, "color": {"field": "gene", "type": "nominal", "scale": {"domain": ["Aggrecan","COL2"], "range": ["#1d2e9e","#e3232b"]}, "legend": null}}},
   {"transform": [{"filter": "datum.sig === '*'"}], "mark": {"type": "text", "fontSize": 11, "fontWeight": "bold", "baseline": "alphabetic", "dy": 1, "color": "#111111"},
    "encoding": {"y": {"field": "err", "type": "quantitative"}, "text": {"field": "sig"}}},
   {"mark": {"type": "point", "opacity": 0},
    "encoding": {"y": {"field": "value", "type": "quantitative"}, "shape": {"field": "cells", "type": "nominal", "legend": {"title": null, "orient": "none", "legendX": 51, "legendY": -40, "strokeColor": "#111111", "padding": 2, "symbolSize": 0, "symbolStrokeWidth": 0, "symbolOpacity": 0, "labelOffset": 0, "labelFontSize": 8, "labelFontWeight": "bold"}}}}
  ]
 },
 {"width": 148, "height": 112,
  "title": {"text": "I", "dx": -40, "dy": 30},
  "data": {"name": "bars"},
  "transform": [{"filter": "datum.cells === 'Primary human chondrocytes'"}],
  "encoding": {
   "x": {"field": "treat", "type": "nominal", "scale": {"domain": ["Control","NC inhibitor_10 nM","NC inhibitor_50 nM","miR-18a-3p inhibitor_10 nM","miR-18a-3p inhibitor_50 nM","miR-497-5p inhibitor_10 nM","miR-497-5p inhibitor_50 nM","miR-3074-5p inhibitor_10 nM","miR-3074-5p inhibitor_50 nM"], "paddingInner": 0.3, "paddingOuter": 0.05}, "axis": {"title": null, "labelAngle": -45, "labelFontSize": 8.5, "labelFontWeight": "bold", "tickSize": 3, "tickWidth": 1.5, "domainWidth": 1.5, "labelPadding": 1}},
   "xOffset": {"field": "gene", "type": "nominal", "scale": {"domain": ["Aggrecan","COL2"], "paddingInner": 0.2}}
  },
  "layer": [
   {"mark": {"type": "bar", "strokeWidth": 1.2},
    "encoding": {
     "y": {"field": "value", "type": "quantitative", "scale": {"domain": [0, 8], "nice": false}, "axis": {"title": ["Relative mRNA expression", "(fold of control)"], "titleFontSize": 10, "titleFontWeight": "bold", "titlePadding": -4, "labelFontSize": 10, "labelFontWeight": "bold", "values": [0,2,4,6,8], "tickSize": 4, "tickWidth": 1.5, "domainWidth": 1.5, "labelPadding": 1}},
     "fill": {"field": "gene", "type": "nominal", "scale": {"domain": ["Aggrecan","COL2"], "range": ["#3d62dc","#f47d7d"]}, "legend": {"title": null, "orient": "none", "legendX": 12, "legendY": -22, "direction": "vertical", "symbolType": "M-1.4,-0.55L1.4,-0.55L1.4,0.55L-1.4,0.55Z", "symbolSize": 144, "symbolStrokeWidth": 1.2, "labelFontSize": 10, "labelFontWeight": "bold", "labelFontStyle": "italic", "labelOffset": 7, "rowPadding": 2}},
     "stroke": {"field": "gene", "type": "nominal", "scale": {"domain": ["Aggrecan","COL2"], "range": ["#1d2e9e","#e3232b"]}, "legend": {"title": null, "orient": "none", "legendX": 12, "legendY": -22, "direction": "vertical", "symbolType": "M-1.4,-0.55L1.4,-0.55L1.4,0.55L-1.4,0.55Z", "symbolSize": 144, "symbolStrokeWidth": 1.2, "labelFontSize": 10, "labelFontWeight": "bold", "labelFontStyle": "italic", "labelOffset": 7, "rowPadding": 2}}
    }},
   {"transform": [{"filter": "datum.err > datum.value"}], "mark": {"type": "rule", "strokeWidth": 1.2},
    "encoding": {"y": {"field": "value", "type": "quantitative"}, "y2": {"field": "err"}, "color": {"field": "gene", "type": "nominal", "scale": {"domain": ["Aggrecan","COL2"], "range": ["#1d2e9e","#e3232b"]}, "legend": null}}},
   {"transform": [{"filter": "datum.err > datum.value"}], "mark": {"type": "tick", "size": 4, "thickness": 1.2, "opacity": 1},
    "encoding": {"y": {"field": "err", "type": "quantitative"}, "color": {"field": "gene", "type": "nominal", "scale": {"domain": ["Aggrecan","COL2"], "range": ["#1d2e9e","#e3232b"]}, "legend": null}}},
   {"transform": [{"filter": "datum.sig === '*'"}], "mark": {"type": "text", "fontSize": 11, "fontWeight": "bold", "baseline": "alphabetic", "dy": 1, "color": "#111111"},
    "encoding": {"y": {"field": "err", "type": "quantitative"}, "text": {"field": "sig"}}},
   {"mark": {"type": "point", "opacity": 0},
    "encoding": {"y": {"field": "value", "type": "quantitative"}, "shape": {"field": "cells", "type": "nominal", "legend": {"title": null, "orient": "none", "legendX": 12, "legendY": -40, "strokeColor": "#111111", "padding": 2, "symbolSize": 0, "symbolStrokeWidth": 0, "symbolOpacity": 0, "labelOffset": 0, "labelFontSize": 8, "labelFontWeight": "bold"}}}}
  ]
 }
], "bounds": "flush", "spacing": 54,
 "resolve": {"scale": {"color": "independent", "fill": "independent", "stroke": "independent", "shape": "independent"}, "legend": {"color": "independent", "fill": "independent", "stroke": "independent", "shape": "independent"}}}
]
}
